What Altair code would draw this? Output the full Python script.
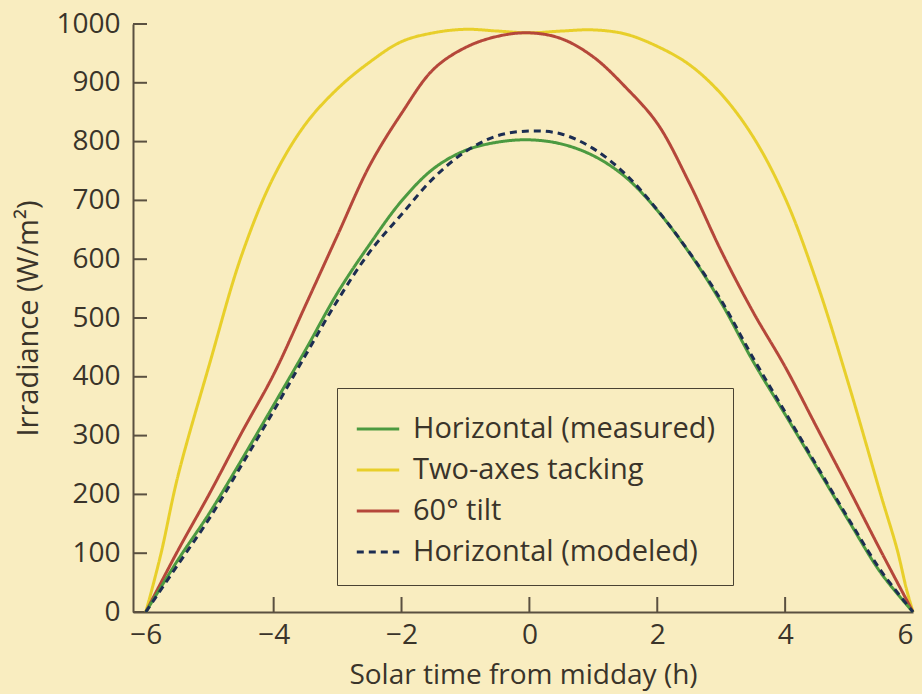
import altair as alt
import pandas as pd

# ---- data ----
hours = [-6, -5.5, -5, -4.5, -4, -3.5, -3, -2.5, -2, -1.5, -1, -0.5, 0,
         0.5, 1, 1.5, 2, 2.5, 3, 3.5, 4, 4.5, 5, 5.5, 6]
measured = [0, 88, 169, 259, 352, 446, 543, 625, 699, 754, 785, 799, 803,
            796, 776, 740, 683, 611, 526, 426, 336, 245, 154, 66, 0]
modeled = [0, 80, 160, 250, 342, 437, 530, 612, 676, 738, 783, 810, 818,
           813, 788, 745, 684, 612, 530, 432, 340, 248, 157, 70, 0]
tilt60 = [0, 104, 202, 305, 404, 522, 641, 759, 848, 923, 960, 979, 985,
          975, 944, 893, 831, 730, 614, 510, 417, 313, 209, 103, 0]

hours_track = [-6, -5.9, -5.75, -5.5, -5, -4.5, -4, -3.5, -3, -2.5, -2, -1.5, -1,
               -0.5, 0, 0.5, 1, 1.5, 2, 2.5, 3, 3.5, 4, 4.5, 5, 5.5, 5.75, 5.9, 6]
tracking = [0, 40, 105, 230, 423, 607, 740, 830, 890, 935, 970, 985, 991,
            988, 985, 988, 990, 983, 962, 931, 881, 808, 704, 559, 385, 198, 107, 38, 0]

series_names = ["Horizontal (measured)", "Two-axes tacking", "60° tilt", "Horizontal (modeled)"]
series_colors = ["#4c9a40", "#e8cf2a", "#b5473a", "#1c2d52"]
series_dash = [[1, 0], [1, 0], [1, 0], [7, 5]]

y_ticks = [0, 100, 200, 300, 400, 500, 600, 700, 800, 900, 1000]
x_ticks = [-6, -4, -2, 0, 2, 4, 6]
x_tick_marks = [-4, -2, 0, 2, 4]

rows = []
for h, v in zip(hours_track, tracking):
    rows.append({"t": h, "v": v, "s": series_names[1]})
for h, v in zip(hours, tilt60):
    rows.append({"t": h, "v": v, "s": series_names[2]})
for h, v in zip(hours, measured):
    rows.append({"t": h, "v": v, "s": series_names[0]})
for h, v in zip(hours, modeled):
    rows.append({"t": h, "v": v, "s": series_names[3]})
df = pd.DataFrame(rows)

FONT = "Open Sans"
AX = "#5a5040"
TXT = "#3a342a"

xscale = alt.Scale(domain=[-6.2, 6], nice=False, zero=False)
yscale = alt.Scale(domain=[0, 1000], nice=False)


def make_legend():
    return alt.Legend(title=None, orient="none", legendX=204, legendY=364,
                      symbolType="stroke", symbolSize=1800, symbolStrokeWidth=3,
                      labelFont=FONT, labelFontSize=29, labelColor=TXT,
                      labelLimit=1000, labelOffset=12, rowPadding=3, padding=18,
                      strokeColor="#4a4232", cornerRadius=0)


lines = alt.Chart(df).mark_line(strokeWidth=3, interpolate="catmull-rom").encode(
    x=alt.X("t:Q", scale=xscale,
            axis=alt.Axis(title="Solar time from midday (h)", values=x_ticks, format="d",
                          ticks=False, tickSize=0, grid=False, domainColor=AX,
                          domainWidth=2, labelFont=FONT, labelFontSize=28,
                          labelColor=TXT, labelPadding=9, titleFont=FONT,
                          titleFontSize=28, titleFontWeight="normal",
                          titleColor=TXT, titlePadding=12)),
    y=alt.Y("v:Q", scale=yscale,
            axis=alt.Axis(title="Irradiance (W/m²)", values=y_ticks, format="d",
                          ticks=False, tickSize=0, grid=False, domainColor=AX,
                          domainWidth=2, labelFont=FONT, labelFontSize=28,
                          labelColor=TXT, labelPadding=13, titleFont=FONT,
                          titleFontSize=29, titleFontWeight="normal",
                          titleColor=TXT, titlePadding=12)),
    color=alt.Color("s:N", scale=alt.Scale(domain=series_names, range=series_colors),
                    legend=make_legend()),
    strokeDash=alt.StrokeDash("s:N", scale=alt.Scale(domain=series_names, range=series_dash),
                              legend=make_legend()),
    detail="s:N",
)

ytick_df = pd.DataFrame({"v": y_ticks})
yticks = alt.Chart(ytick_df).mark_rule(color=AX, strokeWidth=2).encode(
    y=alt.Y("v:Q", scale=yscale), x=alt.value(0), x2=alt.value(14))

xtick_df = pd.DataFrame({"t": x_tick_marks})
xticks = alt.Chart(xtick_df).mark_rule(color=AX, strokeWidth=2).encode(
    x=alt.X("t:Q", scale=xscale), y=alt.value(588), y2=alt.value(573))

chart = alt.layer(yticks, xticks, lines).properties(
    width=780, height=588,
    autosize=alt.AutoSizeParams(type="none"),
    padding={"left": 133, "top": 24, "right": 9, "bottom": 82},
    background="#f9edc0",
).configure_view(stroke=None)

chart.save("out.html", embed_options={"renderer": "svg", "actions": False})
